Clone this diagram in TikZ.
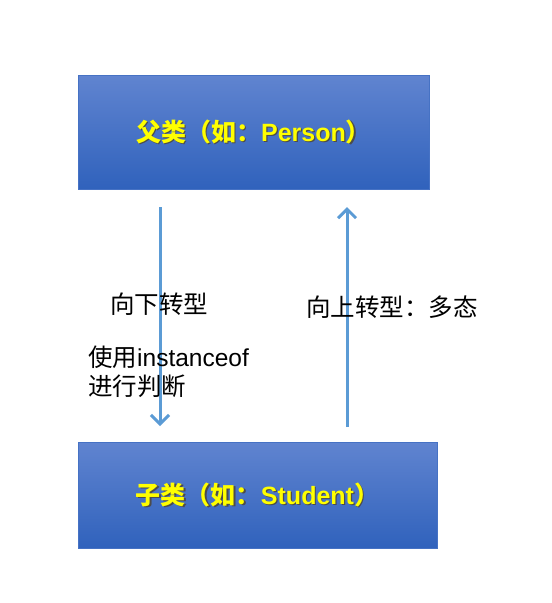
\documentclass[tikz,border=0pt]{standalone}
\usepackage{fontspec}
\setmainfont{Liberation Sans}
\newfontfamily\cjk{Noto Sans CJK SC}
\usetikzlibrary{arrows.meta}
\definecolor{boxtop}{RGB}{96,132,208}
\definecolor{boxbot}{RGB}{48,98,188}
\definecolor{boxline}{RGB}{70,114,196}
\definecolor{arrowc}{RGB}{91,155,213}
\definecolor{txtyellow}{RGB}{255,255,0}
\tikzset{
  classbox/.style={draw=boxline, line width=0.8pt, top color=boxtop, bottom color=boxbot, inner sep=0pt},
  boxtext/.style={text=txtyellow, font=\fontsize{25}{28}\selectfont\bfseries},
  shadowtext/.style={text=black!70, font=\fontsize{25}{28}\selectfont\bfseries},
  label/.style={text=black, font=\fontsize{24.5}{29}\selectfont, align=left, inner sep=0pt},
  conn/.style={draw=arrowc, line width=3pt, -{Straight Barb[length=9pt,width=18pt,line width=3pt]}}
}
\begin{document}
\begin{tikzpicture}[x=1pt,y=-1pt]
\useasboundingbox (0,0) rectangle (552,603);
% boxes
\node[classbox, minimum width=351pt, minimum height=114pt] (parent) at (253.5,132) {};
\node[classbox, minimum width=359pt, minimum height=106pt] (child) at (257.5,495) {};
% box texts with shadow
\node[shadowtext] at ([shift={(1.2,1.2)}]parent.center) {{\cjk 父类（如：}Person{\cjk ）}};
\node[boxtext] (ptext) at (parent.center) {{\cjk 父类（如：}Person{\cjk ）}};
\node[shadowtext] at ([shift={(1.2,1.2)}]child.center) {{\cjk 子类（如：}Student{\cjk ）}};
\node[boxtext] (ctext) at (child.center) {{\cjk 子类（如：}Student{\cjk ）}};
% arrow end points
\coordinate (downstart) at (160,207);
\coordinate (downend) at (160,426);
\coordinate (upstart) at (347,427);
\coordinate (upend) at (347,207);
\draw[conn] (downstart) -- (downend);
\draw[conn] (upstart) -- (upend);
% labels
\node[label, anchor=west] (down) at (110,304) {\cjk 向下转型};
\node[label, anchor=west] (check) at (88,357) {{\cjk 使用}instanceof};
\node[label, anchor=west] (check2) at (88,386) {\cjk 进行判断};
\node[label, anchor=west] (up) at (306,307) {\cjk 向上转型：多态};
\end{tikzpicture}
\end{document}
